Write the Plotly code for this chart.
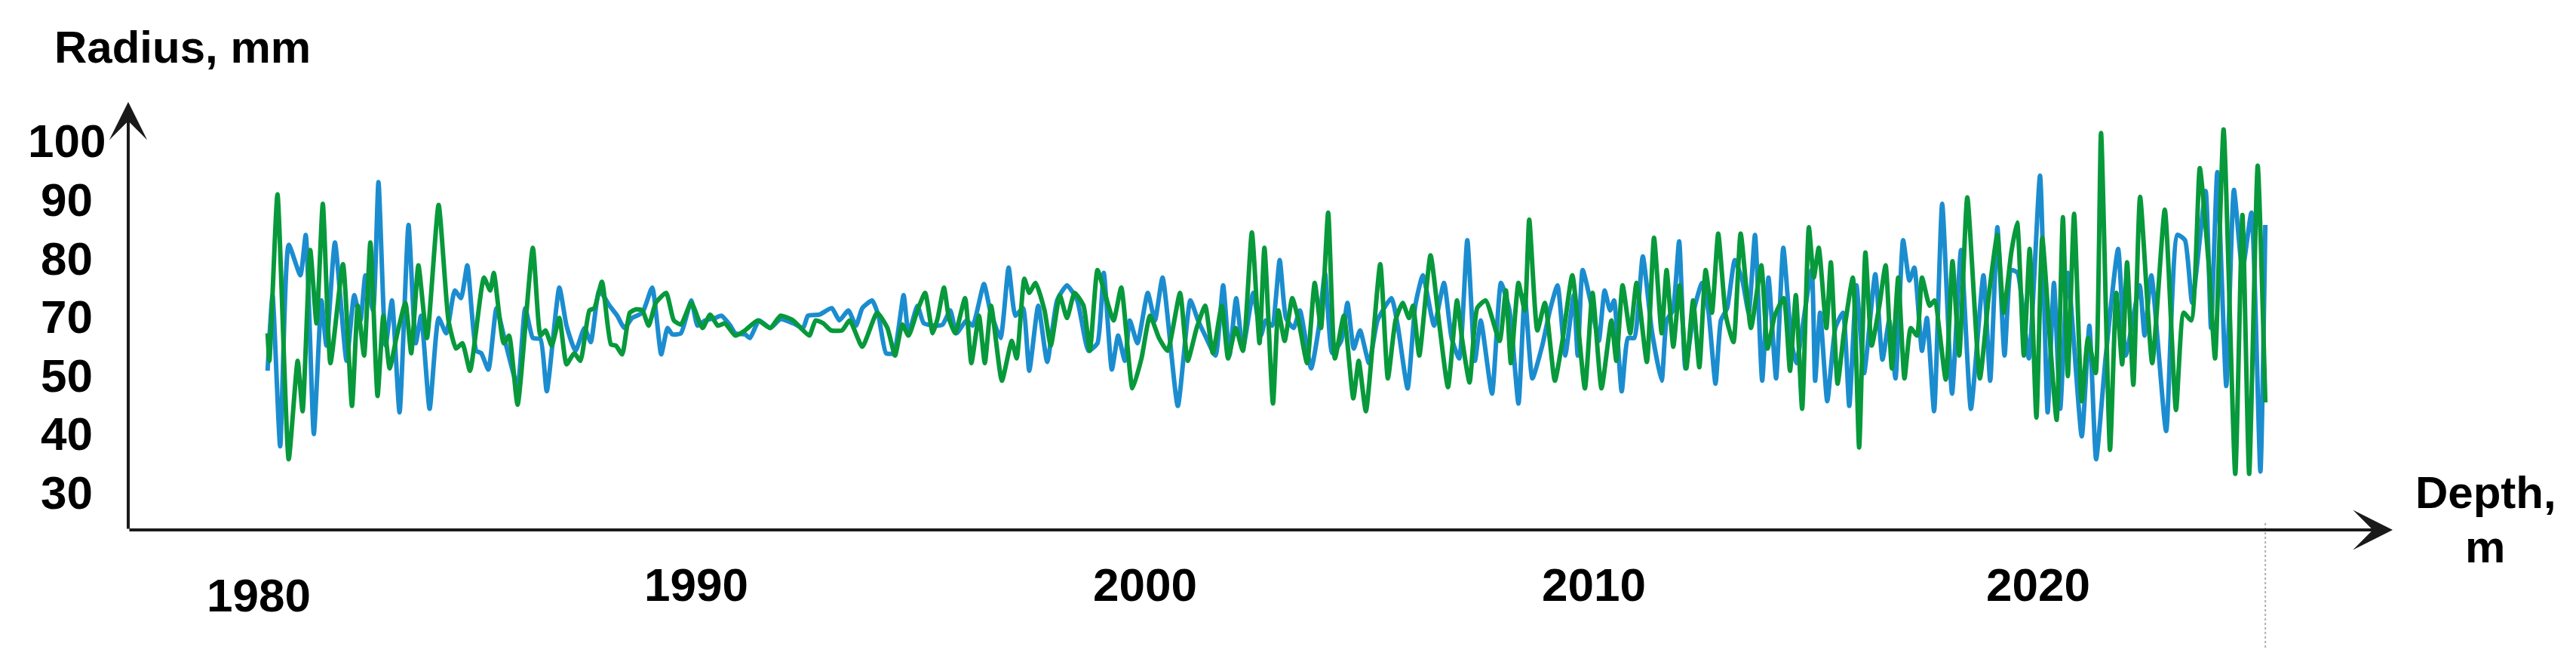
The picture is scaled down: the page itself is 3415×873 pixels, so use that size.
import plotly.graph_objects as go

# ---- data (year, radius) ----
BLUE_YEAR = [1980.45, 1980.56, 1980.73, 1980.92, 1981.18, 1981.30, 1981.48, 1981.65, 1981.76, 1981.95,
             1982.21, 1982.38, 1982.52, 1982.63, 1982.80, 1982.92, 1983.08, 1983.22, 1983.39, 1983.59,
             1983.75, 1983.87, 1984.06, 1984.26, 1984.43, 1984.62, 1984.76, 1984.90, 1985.10, 1985.21,
             1985.37, 1985.55, 1985.74, 1986.02, 1986.19, 1986.36, 1986.53, 1986.67, 1986.95, 1987.11,
             1987.31, 1987.51, 1987.65, 1987.84, 1988.07, 1988.24, 1988.40, 1988.57, 1988.80, 1989.02,
             1989.22, 1989.36, 1989.47, 1989.66, 1989.89, 1990.03, 1990.20, 1990.42, 1990.56, 1990.76,
             1990.87, 1991.09, 1991.20, 1991.40, 1991.65, 1991.88, 1992.16, 1992.38, 1992.49, 1992.75,
             1993.02, 1993.19, 1993.39, 1993.56, 1993.70, 1993.92, 1994.06, 1994.23, 1994.40, 1994.62,
             1994.73, 1994.93, 1995.07, 1995.35, 1995.49, 1995.66, 1995.80, 1996.02, 1996.16, 1996.41,
             1996.55, 1996.78, 1996.96, 1997.11, 1997.28, 1997.42, 1997.62, 1997.82, 1998.04, 1998.26,
             1998.49, 1998.74, 1998.94, 1999.08, 1999.26, 1999.40, 1999.55, 1999.66, 1999.83, 2000.06,
             2000.22, 2000.39, 2000.73, 2001.01, 2001.18, 2001.34, 2001.57, 2001.74, 2001.88, 2002.03,
             2002.18, 2002.41, 2002.58, 2002.69, 2002.83, 2003.00, 2003.14, 2003.31, 2003.45, 2003.70,
             2003.87, 2004.01, 2004.17, 2004.37, 2004.51, 2004.65, 2004.79, 2004.99, 2005.18, 2005.49,
             2005.63, 2005.85, 2006.02, 2006.19, 2006.44, 2006.66, 2006.83, 2007.00, 2007.18, 2007.35,
             2007.48, 2007.73, 2007.93, 2008.12, 2008.32, 2008.46, 2008.63, 2008.85, 2009.02, 2009.19,
             2009.36, 2009.55, 2009.64, 2009.75, 2009.97, 2010.11, 2010.24, 2010.36, 2010.45, 2010.62,
             2010.76, 2010.90, 2011.09, 2011.29, 2011.51, 2011.62, 2011.76, 2011.90, 2012.04, 2012.24,
             2012.41, 2012.55, 2012.71, 2012.83, 2012.97, 2013.14, 2013.31, 2013.45, 2013.59, 2013.75,
             2013.89, 2014.06, 2014.22, 2014.40, 2014.51, 2014.85, 2014.93, 2015.04, 2015.20, 2015.38,
             2015.55, 2015.69, 2015.85, 2016.02, 2016.27, 2016.43, 2016.58, 2016.72, 2016.89, 2017.03,
             2017.14, 2017.31, 2017.42, 2017.58, 2017.76, 2017.98, 2018.18, 2018.40, 2018.68, 2018.83,
             2018.99, 2019.15, 2019.30, 2019.44, 2019.69, 2019.94, 2020.11, 2020.25, 2020.39, 2020.56,
             2020.87, 2021.04, 2021.19, 2021.40, 2021.68, 2021.85, 2022.16, 2022.27, 2022.42, 2022.75,
             2023.00, 2023.17, 2023.33, 2023.63, 2023.75, 2023.89, 2024.09, 2024.26, 2024.45, 2024.65,
             2024.85, 2024.96]
BLUE_R = [60.8, 73.7, 47.9, 82.3, 77.1, 84.0, 50.0, 72.8, 65.1, 82.7,
          62.5, 73.7, 69.4, 77.1, 71.1, 93.0, 65.1, 72.8, 53.7, 85.7,
          65.5, 70.2, 54.3, 69.8, 67.2, 74.5, 73.2, 78.8, 64.2, 63.8,
          61.0, 71.5, 65.9, 58.2, 71.5, 66.4, 66.2, 57.3, 75.0, 68.5,
          64.2, 68.1, 65.7, 74.5, 71.9, 70.2, 68.1, 69.8, 70.7, 75.0,
          63.6, 68.1, 67.0, 67.2, 72.8, 68.5, 69.4, 69.8, 70.2, 68.5,
          67.2, 67.0, 66.4, 69.4, 68.1, 69.6, 68.9, 68.1, 70.2, 70.4,
          71.5, 69.4, 71.1, 68.5, 71.5, 72.8, 70.2, 63.8, 63.8, 73.7,
          67.2, 71.9, 68.9, 68.5, 68.7, 71.1, 67.2, 69.4, 68.5, 75.6,
          71.1, 66.4, 78.4, 70.2, 71.5, 60.8, 71.9, 62.3, 72.8, 75.4,
          72.8, 64.2, 65.5, 77.5, 61.0, 66.8, 62.5, 69.4, 65.5, 74.1,
          69.4, 76.7, 54.8, 72.8, 69.4, 66.8, 63.4, 75.4, 63.4, 73.2,
          64.6, 74.1, 66.8, 69.4, 68.5, 79.7, 69.8, 68.1, 71.1, 61.2,
          68.1, 77.5, 63.8, 65.9, 72.4, 64.6, 67.7, 62.1, 69.4, 73.2,
          68.5, 57.8, 71.9, 77.1, 68.5, 75.8, 66.4, 62.9, 83.1, 62.5,
          69.4, 56.9, 75.8, 71.1, 55.2, 73.7, 59.5, 65.1, 71.1, 75.4,
          63.4, 73.7, 63.4, 78.0, 71.1, 65.9, 74.5, 71.1, 72.8, 57.3,
          66.4, 66.4, 80.3, 67.7, 59.1, 69.4, 71.1, 82.9, 61.2, 71.5,
          75.8, 71.1, 58.6, 69.4, 71.5, 79.7, 76.2, 70.7, 84.0, 59.1,
          76.7, 59.5, 81.8, 65.9, 62.1, 78.0, 59.1, 70.7, 55.6, 68.1,
          70.7, 54.8, 75.4, 60.4, 77.3, 62.7, 69.4, 59.5, 83.1, 76.2,
          78.4, 64.2, 69.8, 53.9, 89.3, 56.9, 81.4, 54.3, 77.1, 59.1,
          85.3, 63.4, 78.0, 77.5, 62.9, 94.1, 53.7, 75.8, 54.3, 77.5,
          49.6, 68.5, 45.7, 62.9, 81.6, 63.4, 75.4, 66.8, 77.1, 50.5,
          84.0, 83.1, 72.4, 91.5, 68.1, 94.7, 58.2, 91.7, 78.0, 87.8,
          43.6, 85.7]

GREEN_YEAR = [1980.45, 1980.49, 1980.67, 1980.92, 1981.12, 1981.23, 1981.40, 1981.54, 1981.68, 1981.85,
              1982.13, 1982.33, 1982.46, 1982.60, 1982.74, 1982.90, 1983.03, 1983.17, 1983.33, 1983.52,
              1983.65, 1983.81, 1984.00, 1984.26, 1984.48, 1984.65, 1984.79, 1984.96, 1985.27, 1985.41,
              1985.49, 1985.71, 1985.83, 1986.02, 1986.36, 1986.53, 1986.64, 1986.78, 1986.95, 1987.11,
              1987.28, 1987.42, 1987.62, 1987.73, 1987.90, 1988.10, 1988.21, 1988.35, 1988.52, 1988.66,
              1988.80, 1988.94, 1989.10, 1989.33, 1989.50, 1989.66, 1989.89, 1990.14, 1990.31, 1990.48,
              1990.64, 1990.87, 1991.09, 1991.37, 1991.65, 1991.88, 1992.16, 1992.33, 1992.52, 1992.66,
              1992.83, 1993.00, 1993.25, 1993.42, 1993.70, 1994.03, 1994.26, 1994.43, 1994.59, 1994.73,
              1994.93, 1995.10, 1995.27, 1995.38, 1995.52, 1995.63, 1995.77, 1995.99, 1996.13, 1996.30,
              1996.43, 1996.57, 1996.81, 1997.03, 1997.14, 1997.31, 1997.42, 1997.56, 1997.76, 1997.90,
              1998.10, 1998.26, 1998.43, 1998.63, 1998.77, 1998.94, 1999.10, 1999.30, 1999.47, 1999.72,
              1999.92, 2000.11, 2000.31, 2000.50, 2000.78, 2000.95, 2001.15, 2001.34, 2001.51, 2001.71,
              2001.85, 2002.02, 2002.18, 2002.38, 2002.55, 2002.66, 2002.85, 2002.97, 2003.11, 2003.28,
              2003.42, 2003.61, 2003.78, 2003.92, 2004.08, 2004.23, 2004.43, 2004.64, 2004.76, 2004.92,
              2005.24, 2005.41, 2005.58, 2005.74, 2005.88, 2005.97, 2006.11, 2006.36, 2006.56, 2006.75,
              2006.95, 2007.06, 2007.23, 2007.40, 2007.59, 2007.90, 2008.04, 2008.15, 2008.32, 2008.46,
              2008.56, 2008.74, 2008.91, 2009.13, 2009.30, 2009.52, 2009.80, 2009.97, 2010.17, 2010.39,
              2010.50, 2010.64, 2010.81, 2010.95, 2011.18, 2011.34, 2011.51, 2011.62, 2011.77, 2011.91,
              2012.06, 2012.21, 2012.35, 2012.49, 2012.63, 2012.77, 2012.94, 2013.11, 2013.27, 2013.50,
              2013.73, 2013.87, 2014.03, 2014.23, 2014.37, 2014.50, 2014.64, 2014.79, 2014.90, 2015.01,
              2015.18, 2015.28, 2015.43, 2015.57, 2015.77, 2015.91, 2016.05, 2016.19, 2016.36, 2016.50,
              2016.64, 2016.78, 2016.92, 2017.06, 2017.20, 2017.31, 2017.48, 2017.59, 2017.84, 2017.99,
              2018.14, 2018.32, 2018.60, 2018.80, 2018.99, 2019.13, 2019.30, 2019.43, 2019.58, 2019.71,
              2019.86, 2019.99, 2020.17, 2020.31, 2020.45, 2020.56, 2020.70, 2020.87, 2021.01, 2021.18,
              2021.30, 2021.50, 2021.64, 2021.77, 2021.88, 2022.02, 2022.17, 2022.44, 2022.72, 2022.97,
              2023.14, 2023.31, 2023.50, 2023.70, 2023.84, 2024.03, 2024.29, 2024.45, 2024.60, 2024.79,
              2024.96]
GREEN_R = [67.2, 62.5, 90.9, 45.7, 62.5, 53.9, 81.4, 68.9, 89.3, 62.1,
           79.0, 54.8, 71.9, 63.4, 82.7, 56.5, 70.2, 61.2, 66.8, 72.4,
           63.8, 78.8, 66.4, 89.1, 69.4, 64.6, 65.5, 60.8, 76.7, 74.5,
           77.5, 65.5, 66.8, 55.0, 81.8, 66.8, 67.7, 65.1, 69.8, 61.9,
           63.8, 62.5, 71.1, 71.5, 76.0, 65.3, 65.1, 63.6, 70.7, 71.3,
           71.1, 68.5, 72.4, 74.1, 69.4, 68.7, 72.4, 68.1, 70.4, 68.5,
           68.9, 66.8, 67.7, 69.4, 68.1, 70.2, 69.4, 68.1, 66.8, 69.4,
           68.9, 67.7, 67.7, 69.4, 64.9, 70.7, 68.1, 63.4, 68.7, 66.8,
           71.1, 74.1, 67.2, 69.8, 75.0, 69.8, 67.2, 73.2, 62.1, 70.2,
           62.1, 71.9, 59.1, 65.9, 62.9, 76.5, 74.1, 75.8, 71.1, 65.1,
           73.7, 69.8, 74.1, 71.9, 64.2, 78.0, 74.1, 69.4, 75.0, 57.8,
           62.9, 70.2, 66.4, 64.2, 74.1, 62.5, 68.1, 71.9, 63.8, 71.9,
           62.9, 68.1, 64.2, 84.4, 65.5, 81.8, 55.2, 71.1, 65.9, 73.2,
           69.4, 62.1, 75.8, 68.1, 87.8, 62.9, 70.2, 56.1, 62.5, 53.9,
           79.0, 59.5, 69.4, 72.4, 69.8, 71.9, 63.4, 80.5, 68.5, 58.0,
           72.8, 66.4, 58.8, 71.5, 72.8, 65.9, 74.5, 62.1, 75.8, 71.1,
           86.6, 67.7, 72.4, 59.1, 65.9, 77.1, 57.8, 74.1, 57.8, 69.4,
           62.5, 75.4, 67.2, 75.8, 62.3, 83.5, 67.2, 78.0, 64.9, 75.4,
           61.2, 72.8, 61.4, 78.0, 70.7, 84.2, 70.2, 65.7, 84.2, 68.1,
           78.8, 64.6, 70.2, 73.2, 60.8, 73.7, 54.3, 85.3, 76.7, 81.8,
           68.1, 79.3, 58.6, 67.2, 76.7, 47.7, 81.0, 65.1, 71.9, 78.8,
           61.2, 76.7, 59.5, 68.1, 66.8, 76.7, 71.9, 72.8, 59.3, 79.5,
           63.4, 90.4, 59.5, 73.7, 84.0, 70.7, 81.0, 86.1, 63.4, 81.6,
           52.8, 83.5, 65.1, 52.4, 87.0, 59.9, 87.6, 55.6, 66.4, 60.4,
           101.4, 47.3, 74.1, 61.9, 79.3, 58.4, 90.5, 62.1, 88.3, 54.1,
           70.7, 69.4, 95.4, 78.8, 62.9, 102.0, 43.2, 87.4, 43.2, 95.8,
           55.4]

# tick labels as printed (the 60 is missing on the original, labels are evenly spaced)
Y_TICK_POS = [40, 50, 60, 70, 80, 90, 100]
Y_TICK_TEXT = ['30', '40', '50', '70', '80', '90', '100']
X_TICK_POS = [1980.26, 1990, 2000, 2010, 2019.9]
X_TICK_TEXT = ['1980', '1990', '2000', '2010', '2020']
X_TICK_DROP = [86, 72, 72, 72, 72]   # px below the axis

BLUE = '#1b8dcf'
GREEN = '#07993b'
AXIS = '#1a1a1a'
FONT = 'Liberation Sans, Arial, sans-serif'

fig = go.Figure()

fig.add_trace(
    go.Scatter(x=BLUE_YEAR, y=BLUE_R,
               mode='lines',
               line={'color': BLUE, 'width': 6, 'shape': 'spline', 'smoothing': 0.5},
               showlegend=False,
               )
)
fig.add_trace(
    go.Scatter(x=GREEN_YEAR, y=GREEN_R,
               mode='lines',
               line={'color': GREEN, 'width': 6, 'shape': 'spline', 'smoothing': 0.5},
               showlegend=False,
               )
)

# axes themselves are hidden, drawn as arrows instead
fig.update_xaxes(range=[1977.345, 2027.798], visible=False, showgrid=False, zeroline=False)
fig.update_yaxes(range=[33.63, 106.70], visible=False, showgrid=False, zeroline=False)

annotations = []

# y axis arrow
annotations.append(dict(xref='paper', yref='paper', x=0, y=1, ax=0, ay=567,
                        axref='pixel', ayref='pixel', showarrow=True, text='',
                        arrowhead=3, arrowsize=2.1, arrowwidth=4, arrowcolor=AXIS))
# x axis arrow
annotations.append(dict(xref='paper', yref='paper', x=1, y=0, ax=-3002, ay=0,
                        axref='pixel', ayref='pixel', showarrow=True, text='',
                        arrowhead=3, arrowsize=2.2, arrowwidth=4, arrowcolor=AXIS))

for pos, txt in zip(Y_TICK_POS, Y_TICK_TEXT):
    annotations.append(dict(xref='paper', yref='y', x=0, y=pos, xshift=-82,
                            xanchor='center', yanchor='middle', showarrow=False,
                            text='<b>%s</b>' % txt,
                            font=dict(family=FONT, size=62, color='black')))

for pos, txt, drop in zip(X_TICK_POS, X_TICK_TEXT, X_TICK_DROP):
    annotations.append(dict(xref='x', yref='paper', x=pos, y=0, yshift=-drop,
                            xanchor='center', yanchor='middle', showarrow=False,
                            text='<b>%s</b>' % txt,
                            font=dict(family=FONT, size=62, color='black')))

# axis titles
annotations.append(dict(xref='paper', yref='paper', x=0, y=1, xshift=-100, yshift=73,
                        xanchor='left', yanchor='middle', showarrow=False,
                        text='<b>Radius, mm</b>',
                        font=dict(family=FONT, size=60, color='black')))
annotations.append(dict(xref='paper', yref='paper', x=1, y=0, xshift=123, yshift=50,
                        xanchor='center', yanchor='middle', showarrow=False,
                        text='<b>Depth,</b>',
                        font=dict(family=FONT, size=60, color='black')))
annotations.append(dict(xref='paper', yref='paper', x=1, y=0, xshift=122, yshift=-22,
                        xanchor='center', yanchor='middle', showarrow=False,
                        text='<b>m</b>',
                        font=dict(family=FONT, size=60, color='black')))

# dotted marker line at the end of the record
fig.add_shape(type='line', xref='x', yref='paper',
              x0=BLUE_YEAR[-1], x1=BLUE_YEAR[-1], y0=0.016, y1=-0.279,
              line=dict(color='#b0b0b0', width=2, dash='dot'))

fig.update_layout(
    width=3415, height=873,
    margin=dict(l=162, r=251, t=127, b=179),
    paper_bgcolor='white',
    plot_bgcolor='white',
    annotations=annotations,
)

fig.write_html('out.html')
